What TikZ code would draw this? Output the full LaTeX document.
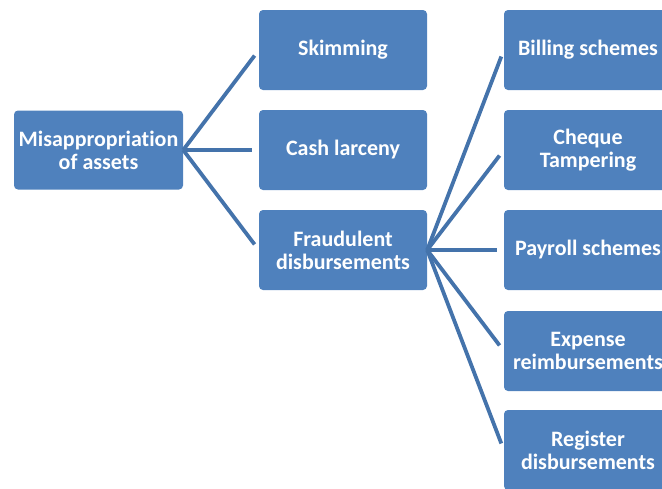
\documentclass[tikz,border=0pt]{standalone}
\usepackage{fontspec}
\setmainfont{Carlito}[Ligatures={NoCommon}]
\definecolor{boxblue}{HTML}{4F81BD}
\definecolor{lineblue}{HTML}{4473AB}

\begin{document}
\begin{tikzpicture}[x=1pt,y=-1pt]
\tikzstyle{box}=[fill=boxblue,rounded corners=4pt,minimum width=168pt,
  minimum height=80pt,align=center,text=white,inner xsep=0pt,
  font=\fontsize{22}{23}\selectfont\bfseries]
\tikzstyle{link}=[lineblue,line width=3.8pt,shorten >=7pt]

\useasboundingbox (0,0) rectangle (662,488);
\clip (0,0) rectangle (662,488);

%root and first level
\node[box,minimum width=169pt,minimum height=79pt] (misap) at (98.5,150)
  {Misappropriation\\of assets};
\node[box] (skim) at (343,50) {Skimming};
\node[box] (cash) at (343,150) {Cash larceny};
\node[box] (fraud) at (343,250) {Fraudulent\\disbursements};

%second level
\node[box] (bill) at (588,50) {Billing schemes};
\node[box] (cheque) at (588,150) {Cheque\\Tampering};
\node[box] (pay) at (588,250) {Payroll schemes};
\node[box] (expense) at (588,351) {Expense\\reimbursements};
\node[box] (register) at (588,450) {Register\\disbursements};

%fan of lines
\foreach \to in {skim,cash,fraud}
  \draw[link] (misap.east) -- (\to.west);
\foreach \to in {bill,cheque,pay,expense,register}
  \draw[link] (fraud.east) -- (\to.west);

\end{tikzpicture}
\end{document}
